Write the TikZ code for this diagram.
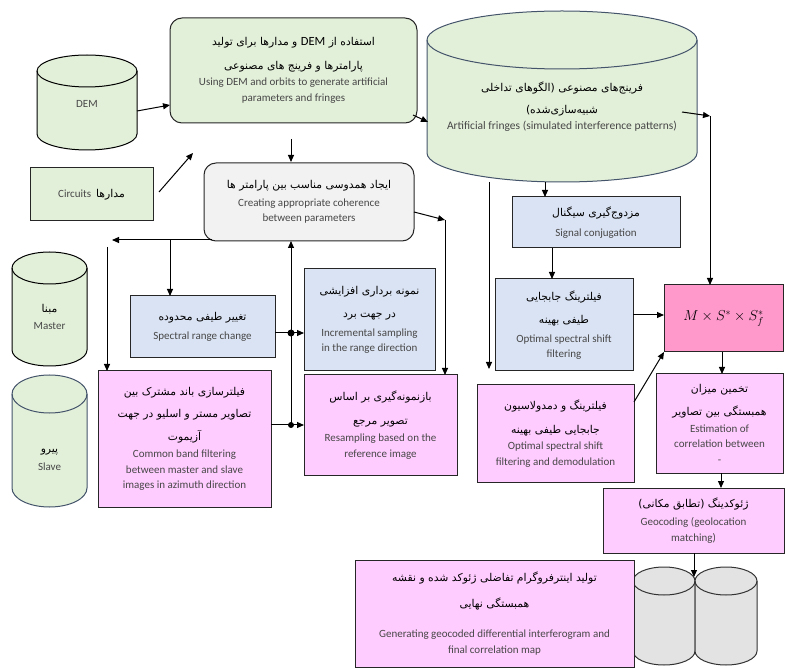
\documentclass[tikz,border=0pt]{standalone}
\usepackage{fontspec}
\setmainfont{Carlito}
\newfontfamily\en{Carlito}
\newfontfamily\fa[Script=Arabic]{DejaVu Sans}
\TeXXeTstate=1
\usetikzlibrary{arrows.meta}
\definecolor{grn}{HTML}{E2EFD9}
\definecolor{gry}{HTML}{F2F2F2}
\definecolor{blu}{HTML}{DAE3F3}
\definecolor{pnk}{HTML}{FFCCFF}
\definecolor{mpk}{HTML}{FF99CC}
\definecolor{cylg}{HTML}{E3E3E3}
\definecolor{cylb}{HTML}{44546A}
\newcommand\FA[1]{{\color{black}\fa\fontsize{10.8}{15}\selectfont\beginR #1\endR}}
\newcommand\mycyl[7]{%
  \pgfmathsetmacro\cxa{#1}\pgfmathsetmacro\cxb{#2}%
  \pgfmathsetmacro\rxx{(#2-#1)/2}%
  \pgfmathsetmacro\cya{#3+#5}\pgfmathsetmacro\cyb{#4-#5}%
  \filldraw[fill=#6,draw=#7,line width=1pt] (\cxa,\cya) -- (\cxa,\cyb)
    arc[start angle=180,end angle=360,x radius=\rxx pt,y radius=#5pt]
    -- (\cxb,\cya) arc[start angle=0,end angle=180,x radius=\rxx pt,y radius=#5pt] -- cycle;
  \draw[draw=#7,line width=1pt] (\cxa,\cya) arc[start angle=180,end angle=360,x radius=\rxx pt,y radius=#5pt];}
\begin{document}
\begin{tikzpicture}[x=1pt,y=-1pt,
  box/.style={draw=black!85,line width=1pt,align=center,inner sep=1pt,outer sep=0pt,
    font=\fontsize{11}{15.5}\selectfont,text=black!72},
  lbl/.style={align=center,inner sep=0pt,font=\fontsize{11}{15.5}\selectfont,text=black!72},
  arr/.style={line width=1pt,-{Triangle[length=7pt,width=6pt]}},
  ln/.style={line width=1pt}]
\useasboundingbox (0,0) rectangle (785,668);

% cylinders
\mycyl{37}{137}{55}{150}{16}{grn}{black}
\node[lbl] (dem) at (87,104) {DEM};
\mycyl{427}{697}{11}{182}{29}{grn}{cylb}
\node[lbl,font=\fontsize{11.5}{15.5}\selectfont] (fringe) at (562,107) {\FA{فرینج^^^^200cهای مصنوعی (الگوهای تداخلی}\\[6pt]\FA{شبیه^^^^200cسازی^^^^200cشده)}\\[1pt]Artificial fringes (simulated interference patterns)};
\mycyl{12}{87}{252}{366}{16}{grn}{black}
\node[lbl] (master) at (49.5,317) {\FA{مبنا}\\[2pt]Master};
\mycyl{12}{87}{375}{507}{19}{grn}{cylb}
\node[lbl] (slave) at (49.5,460) {\FA{پیرو}\\[2pt]Slave};
\mycyl{633}{695}{567}{665}{14}{cylg}{black!80}
\mycyl{695}{757}{567}{665}{14}{cylg}{black!80}
\coordinate (drums) at (694,577);

% boxes
\node[box,fill=grn,rounded corners=12pt,minimum width=247pt,minimum height=105pt] (gen) at (293.5,70.5)
  {\FA{استفاده از \beginL{\en\fontsize{12.5}{14}\selectfont DEM}\endL{} و مدارها برای تولید}\\[8pt]\FA{پارامترها و فرینج های مصنوعی}\\[1pt]Using DEM and orbits to generate artificial\\parameters and fringes};
\node[box,fill=grn,minimum width=123pt,minimum height=53pt] (circ) at (91.5,194.5)
  {Circuits\hspace{5pt}\FA{مدارها}};
\node[box,fill=gry,rounded corners=12pt,minimum width=210pt,minimum height=78pt] (coh) at (309,202)
  {\FA{ایجاد همدوسی مناسب بین پارامتر ها}\\[2pt]Creating appropriate coherence\\between parameters};
\node[box,fill=blu,minimum width=168pt,minimum height=51pt] (sig) at (596,222.5)
  {\FA{مزدوج^^^^200cگیری سیگنال}\\[4pt]Signal conjugation};
\node[box,fill=blu,minimum width=145pt,minimum height=62pt] (spec) at (202.5,327)
  {\FA{تغییر طیفی محدوده}\\[4pt]Spectral range change};
\node[box,fill=blu,minimum width=131pt,minimum height=102pt] (incr) at (369.5,320)
  {\FA{نمونه برداری افزایشی}\\[8pt]\FA{در جهت برد}\\[3pt]Incremental sampling\\in the range direction};
\node[box,fill=blu,minimum width=138pt,minimum height=92pt] (opt) at (564,325)
  {\FA{فیلترینگ جابجایی}\\[8pt]\FA{طیفی بهینه}\\[3pt]Optimal spectral shift\\filtering};
\node[box,fill=mpk,minimum width=119pt,minimum height=67pt,font=\fontsize{14}{16}\selectfont,text=black] (mss) at (723.5,318.5)
  {$M \times S^{*} \times S_{f}^{*}$};
\node[box,fill=pnk,minimum width=127pt,minimum height=99pt] (est) at (719.5,423.5)
  {\FA{تخمین میزان}\\[8pt]\FA{همبستگی بین تصاویر}\\[1pt]Estimation of\\correlation between\\-};
\node[box,fill=pnk,minimum width=173pt,minimum height=136pt] (comm) at (184.5,439)
  {\FA{فیلترسازی باند مشترک بین}\\[7pt]\FA{تصاویر مستر و اسلیو در جهت}\\[7pt]\FA{آزیموت}\\[2pt]Common band filtering\\between master and slave\\images in azimuth direction};
\node[box,fill=pnk,minimum width=153pt,minimum height=100pt] (resamp) at (380.5,425)
  {\FA{بازنمونه^^^^200cگیری بر اساس}\\[8pt]\FA{تصویر مرجع}\\[2pt]Resampling based on the\\reference image};
\node[box,fill=pnk,minimum width=157pt,minimum height=97pt] (demod) at (555.5,433.5)
  {\FA{فیلترینگ و دمدولاسیون}\\[8pt]\FA{جابجایی طیفی بهینه}\\[1pt]Optimal spectral shift\\filtering and demodulation};
\node[box,fill=pnk,minimum width=181pt,minimum height=65pt] (geo) at (693.5,520.5)
  {\FA{ژئوکدینگ (تطابق مکانی)}\\[3pt]Geocoding (geolocation\\matching)};
\node[box,fill=pnk,minimum width=279pt,minimum height=107pt] (final) at (494.5,613.5)
  {\FA{تولید اینترفروگرام تفاضلی ژئوکد شده و نقشه}\\[10pt]\FA{همبستگی نهایی}\\[15pt]Generating geocoded differential interferogram and\\final correlation map};

% connectors
\coordinate (demR) at (137,111);  \coordinate (genL) at (170,105);
\draw[arr] (demR) -- (genL);
\coordinate (cirA) at (159,192);  \coordinate (cirB) at (193,153);
\draw[arr] (cirA) -- (cirB);
\coordinate (genB) at (291,139);  \coordinate (cohT) at (291,162);
\draw[arr] (genB) -- (cohT);
\coordinate (genR) at (413,115);  \coordinate (frL) at (428,122);
\draw[arr] (genR) -- (frL);
\coordinate (frR) at (682,112);   \coordinate (frK) at (710,116);
\draw[arr] (frR) -- (frK);
\draw[arr] (frK) -- (frK |- mss.north);
\coordinate (frB) at (545,182);
\draw[arr] (frB) -- (frB |- sig.north);
\coordinate (vA) at (489,182);    \coordinate (vB) at (489,369);
\draw[arr] (vA) -- (vB);
\coordinate (sigB) at (552,248);
\draw[arr] (sigB) -- (sigB |- opt.north);
\coordinate (optR) at (633,315);
\draw[arr] (optR) -- (optR -| mss.west);
\coordinate (demR2) at (634,402); \coordinate (mssBL) at (664,352);
\draw[arr] (demR2) -- (mssBL);
\coordinate (mssB) at (722,352);
\draw[arr] (mssB) -- (mssB |- est.north);
\coordinate (estB) at (721,473);
\draw[arr] (estB) -- (estB |- geo.north);
\coordinate (geoB) at (694,553);
\draw[arr] (geoB) -- (drums);
\coordinate (cohR) at (414,212);  \coordinate (cohK) at (445,220);
\draw[arr] (cohR) -- (cohK);
\draw[arr] (cohK) -- (cohK |- resamp.north);
\coordinate (cohL) at (212,240);  \coordinate (lTip) at (112,240);
\draw[arr] (cohL) -- (lTip);
\coordinate (brA) at (170,240);
\draw[arr] (brA) -- (brA |- spec.north);
\coordinate (vL) at (107,247);
\draw[arr] (vL) -- (vL |- comm.north);
\coordinate (jA) at (291,333);  \coordinate (jB) at (291,425);
\draw[arr] (jB) -- (jB |- coh.south);
\draw[arr] (spec.east |- jA) -- (jA -| incr.west);
\draw[arr] (comm.east |- jB) -- (jB -| resamp.west);
\fill (jA) circle[radius=3.5pt];
\fill (jB) circle[radius=3pt];
\end{tikzpicture}
\end{document}
